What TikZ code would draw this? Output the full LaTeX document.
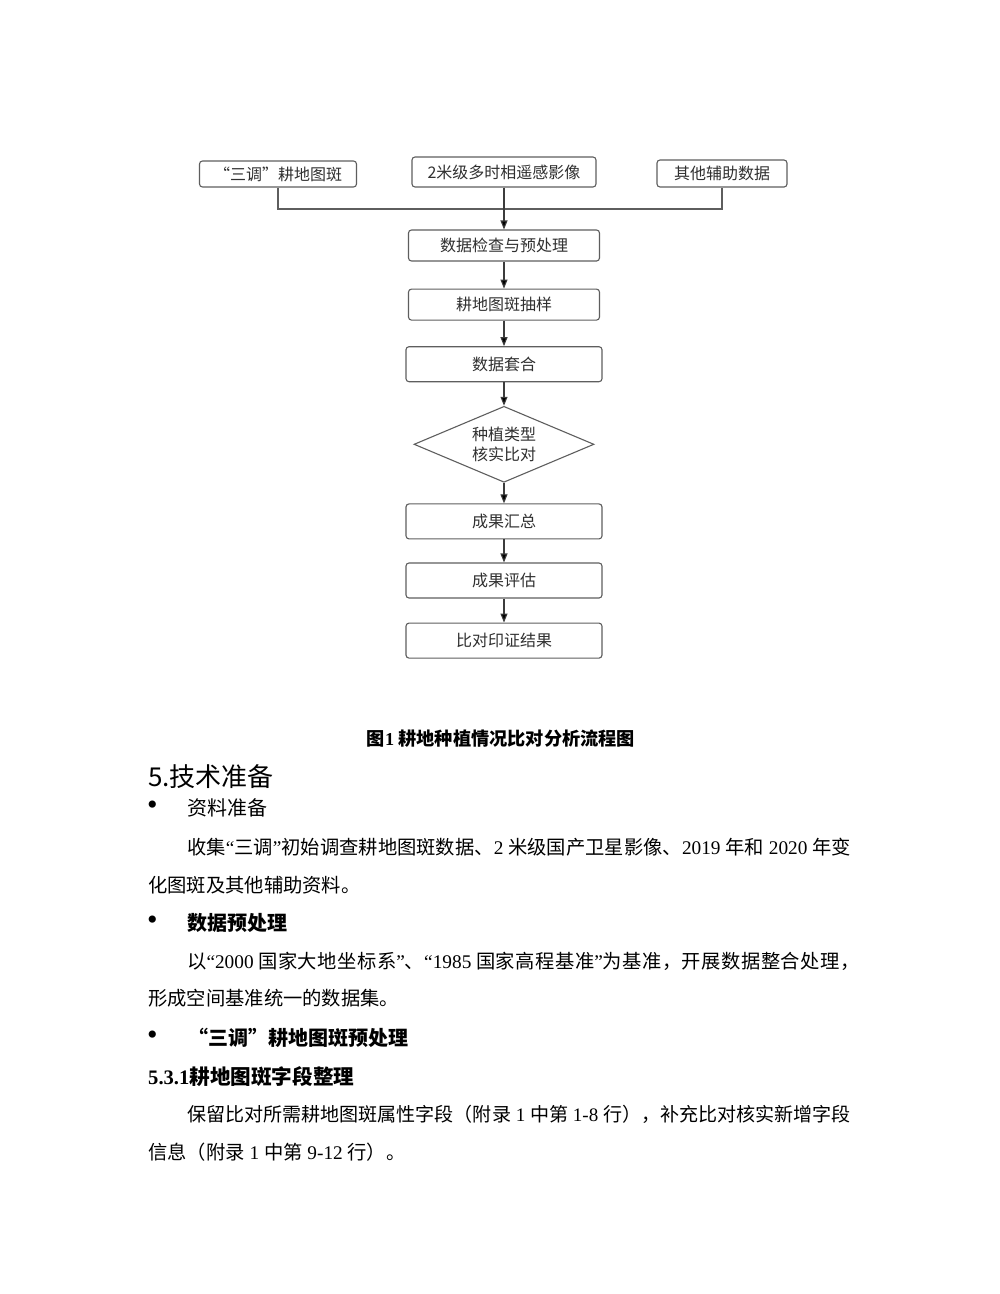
\documentclass[tikz,border=0pt]{standalone}
\usepackage{fontspec}
\setmainfont{Noto Sans CJK SC}
\newfontfamily\tnr{Liberation Serif}
\usetikzlibrary{arrows.meta,shapes.geometric,positioning}
\definecolor{boxline}{HTML}{5E5E5E}
\definecolor{arrline}{HTML}{3C3C3C}
\definecolor{boxtext}{HTML}{303030}
\tikzstyle{proc} = [draw=boxline, rounded corners=3pt, line width=1.1pt, text=boxtext,
	font=\fontsize{16}{20}\selectfont, inner sep=0pt]
\tikzstyle{decide} = [draw=boxline, diamond, aspect=2.4, line width=1.1pt, text=boxtext,
	font=\fontsize{16}{20}\selectfont, align=center, inner sep=0pt,
	minimum width=180pt, minimum height=76pt]
\tikzstyle{arrow} = [line width=1.1pt, draw=arrline, ->, >={Triangle[length=9pt,width=7pt]}]
\tikzstyle{txt} = [anchor=west, inner sep=0pt, font=\fontsize{19.3}{38}\selectfont]
\tikzstyle{head} = [anchor=west, inner sep=0pt, font=\fontsize{20}{24}\selectfont]
\tikzstyle{bullet} = [inner sep=0pt, font=\fontsize{30}{30}\selectfont\tnr]
\newcommand{\lat}[1]{{\tnr #1}}
\newcommand{\fwq}[1]{{\addfontfeature{CharacterWidth=Full}#1}}

\begin{document}
\begin{tikzpicture}[x=1pt,y=-1pt]
	\useasboundingbox[fill=white] (0,0) rectangle (1000,1294);
	
	% flowchart
	\node[proc, minimum width=157pt, minimum height=26pt] (santiao) at (278,174) {\fwq{“}三调\fwq{”}耕地图斑};
	\node[proc, minimum width=184pt, minimum height=30pt] (yingxiang) at (504,172) {2米级多时相遥感影像};
	\node[proc, minimum width=130pt, minimum height=27pt] (fuzhu) at (722,173.5) {其他辅助数据};
	\node[proc, minimum width=191pt, minimum height=31pt] (jiancha) at (504,245.5) {数据检查与预处理};
	\node[proc, minimum width=191pt, minimum height=31pt, below=27pt of jiancha] (chouyang) {耕地图斑抽样};
	\node[proc, minimum width=196pt, minimum height=35pt, below=25.5pt of chouyang] (taohe) {数据套合};
	\node[decide, below=23.5pt of taohe] (heshi) {种植类型\\核实比对};
	\node[proc, minimum width=196pt, minimum height=35pt, below=20.5pt of heshi] (huizong) {成果汇总};
	\node[proc, minimum width=196pt, minimum height=35pt, below=23pt of huizong] (pinggu) {成果评估};
	\node[proc, minimum width=196pt, minimum height=35pt, below=24pt of pinggu] (jieguo) {比对印证结果};
	\coordinate (join) at (504,209);
	
	\draw[line width=1.1pt, draw=boxline] (santiao.south) |- (join) -| (fuzhu.south);
	\path[arrow] (yingxiang) edge (jiancha)
	(jiancha) edge (chouyang)
	(chouyang) edge (taohe)
	(taohe) edge (heshi)
	(heshi) edge (huizong)
	(huizong) edge (pinggu)
	(pinggu) edge (jieguo);
	
	% caption and text
	\node[inner sep=0pt, font=\fontsize{18.2}{22}\selectfont\bfseries] (caption) at (501,739) {图\lat{\bfseries 1} 耕地种植情况比对分析流程图};
	\node[anchor=west, inner sep=0pt, font=\fontsize{26}{30}\selectfont] (sec5) at (148,777) {5.技术准备};
	\node[bullet] (dot1) at (152.5,808) {•};
	\node[head] (ziliao) at (187,808) {资料准备};
	\node[txt] (p1a) at (187,847) {收集\lat{“}三调\lat{”}初始调查耕地图斑数据、\lat{2 }米级国产卫星影像、\lat{2019 }年和\lat{ 2020 }年变};
	\node[txt] (p1b) at (148,885) {化图斑及其他辅助资料。};
	\node[bullet] (dot2) at (152.5,923) {•};
	\node[head, font=\fontsize{20}{24}\selectfont\bfseries] (yuchuli) at (187,923) {数据预处理};
	\node[txt, font=\fontsize{19.3}{38}\selectfont\addfontfeature{LetterSpace=2.4}] (p2a) at (187,961) {以\lat{“2000 }国家大地坐标系\lat{”}、\lat{“1985 }国家高程基准\lat{”}为基准，开展数据整合处理，};
	\node[txt] (p2b) at (148,998) {形成空间基准统一的数据集。};
	\node[bullet] (dot3) at (152.5,1038) {•};
	\node[head, font=\fontsize{20}{24}\selectfont\bfseries] (santiaoh) at (188,1038) {\fwq{“}三调\fwq{”}耕地图斑预处理};
	\node[head, font=\fontsize{20.6}{24}\selectfont\bfseries] (sub531) at (148,1077) {\lat{\bfseries 5.3.1}耕地图斑字段整理};
	\node[txt, font=\fontsize{19.05}{38}\selectfont] (p3a) at (187,1114) {保留比对所需耕地图斑属性字段（附录\lat{ 1 }中第\lat{ 1-8 }行），补充比对核实新增字段};
	\node[txt] (p3b) at (148,1152) {信息（附录\lat{ 1 }中第\lat{ 9-12 }行）。};
\end{tikzpicture}
\end{document}
